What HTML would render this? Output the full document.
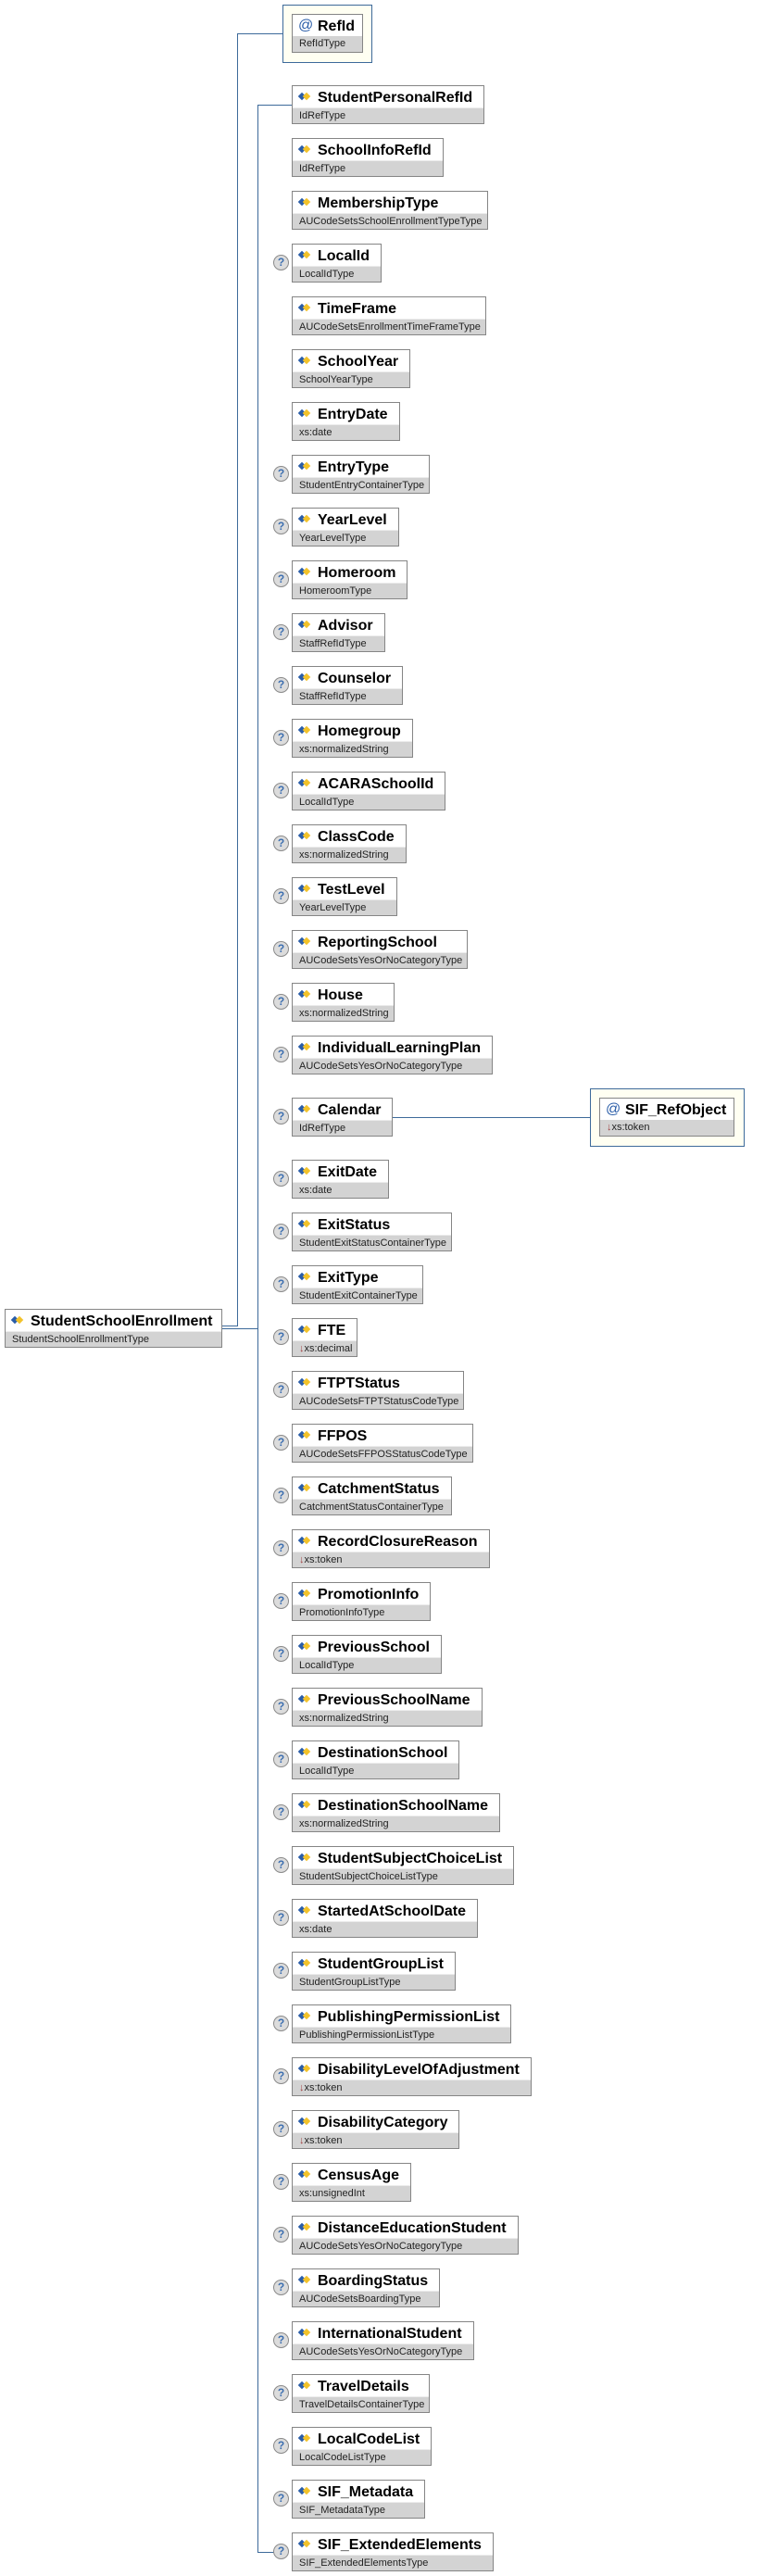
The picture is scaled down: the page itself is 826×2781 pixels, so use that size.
<!DOCTYPE html>
<html><head><meta charset="utf-8"><style>
body{margin:0;width:826px;height:2781px;position:relative;background:#fff;overflow:hidden;font-family:"Liberation Sans",Arial,sans-serif}
.l{position:absolute;background:#3d6a9a}
.e{position:absolute;left:315px;border:1px solid #858585;background:#d3d3d3;white-space:nowrap;box-sizing:border-box;height:42px}
.n{height:23px;background:#fff;padding:0 12px 0 27px;font-weight:bold;font-size:16px;line-height:25px;position:relative;color:#000;border-bottom:1px solid #ececec}
.n::before{content:"";position:absolute;left:7px;top:8px;width:6px;height:6px;background:#2a5da8;transform:rotate(45deg)}
.n::after{content:"";position:absolute;left:12px;top:8px;width:6px;height:6px;background:#f2c22a;transform:rotate(45deg)}
.t{height:17px;font-size:11px;line-height:17px;padding:0 5px 0 7px;color:#222}
.d{color:#a04040}
.q{position:absolute;left:295px;width:15px;height:15px;border:1px solid #8a8a8a;border-radius:50%;background:#dcdcdc;color:#3d6fb0;font-weight:bold;font-size:12px;line-height:15px;text-align:center}
.a{position:absolute;background:#fffff2;border:1px solid #3d6a9a;box-sizing:border-box}
.ai{position:absolute;left:9px;top:9px;border:1px solid #858585;background:#d3d3d3;white-space:nowrap;box-sizing:border-box;height:42px}
.an{height:23px;background:#fff;padding:0 10px 0 27px;font-weight:bold;font-size:16px;line-height:25px;position:relative}
.an span{position:absolute;left:6px;top:-1px;color:#2a5da8;font-weight:normal;font-size:16px}
</style></head><body>
<!-- connectors -->
<div class="l" style="left:240px;top:1431px;width:17px;height:1px"></div>
<div class="l" style="left:256px;top:36px;width:1px;height:1396px"></div>
<div class="l" style="left:256px;top:36px;width:49px;height:1px"></div>
<div class="l" style="left:240px;top:1434px;width:38px;height:1px"></div>
<div class="l" style="left:278px;top:113px;width:1px;height:2643px"></div>
<div class="l" style="left:278px;top:113px;width:37px;height:1px"></div>
<div class="l" style="left:278px;top:2755px;width:18px;height:1px"></div>
<div class="l" style="left:400px;top:1206px;width:237px;height:1px"></div>

<!-- root -->
<div class="e" style="left:5px;top:1413px;width:235px"><div class="n">StudentSchoolEnrollment</div><div class="t">StudentSchoolEnrollmentType</div></div>

<!-- RefId attribute -->
<div class="a" style="left:305px;top:5px;width:97px;height:63px"><div class="ai" style="width:77px"><div class="an"><span>@</span>RefId</div><div class="t">RefIdType</div></div></div>

<!-- SIF_RefObject attribute -->
<div class="a" style="left:637px;top:1175px;width:167px;height:63px"><div class="ai" style="width:146px"><div class="an"><span>@</span>SIF_RefObject</div><div class="t"><span class="d">↓</span>xs:token</div></div></div>

<div class="e" style="top:92px"><div class="n">StudentPersonalRefId</div><div class="t">IdRefType</div></div>
<div class="e" style="top:149px"><div class="n">SchoolInfoRefId</div><div class="t">IdRefType</div></div>
<div class="e" style="top:206px"><div class="n">MembershipType</div><div class="t">AUCodeSetsSchoolEnrollmentTypeType</div></div>
<div class="q" style="top:275px">?</div><div class="e" style="top:263px"><div class="n">LocalId</div><div class="t">LocalIdType</div></div>
<div class="e" style="top:320px"><div class="n">TimeFrame</div><div class="t">AUCodeSetsEnrollmentTimeFrameType</div></div>
<div class="e" style="top:377px"><div class="n">SchoolYear</div><div class="t">SchoolYearType</div></div>
<div class="e" style="top:434px"><div class="n">EntryDate</div><div class="t">xs:date</div></div>
<div class="q" style="top:503px">?</div><div class="e" style="top:491px"><div class="n">EntryType</div><div class="t">StudentEntryContainerType</div></div>
<div class="q" style="top:560px">?</div><div class="e" style="top:548px"><div class="n">YearLevel</div><div class="t">YearLevelType</div></div>
<div class="q" style="top:617px">?</div><div class="e" style="top:605px"><div class="n">Homeroom</div><div class="t">HomeroomType</div></div>
<div class="q" style="top:674px">?</div><div class="e" style="top:662px"><div class="n">Advisor</div><div class="t">StaffRefIdType</div></div>
<div class="q" style="top:731px">?</div><div class="e" style="top:719px"><div class="n">Counselor</div><div class="t">StaffRefIdType</div></div>
<div class="q" style="top:788px">?</div><div class="e" style="top:776px"><div class="n">Homegroup</div><div class="t">xs:normalizedString</div></div>
<div class="q" style="top:845px">?</div><div class="e" style="top:833px"><div class="n">ACARASchoolId</div><div class="t">LocalIdType</div></div>
<div class="q" style="top:902px">?</div><div class="e" style="top:890px"><div class="n">ClassCode</div><div class="t">xs:normalizedString</div></div>
<div class="q" style="top:959px">?</div><div class="e" style="top:947px"><div class="n">TestLevel</div><div class="t">YearLevelType</div></div>
<div class="q" style="top:1016px">?</div><div class="e" style="top:1004px"><div class="n">ReportingSchool</div><div class="t">AUCodeSetsYesOrNoCategoryType</div></div>
<div class="q" style="top:1073px">?</div><div class="e" style="top:1061px"><div class="n">House</div><div class="t">xs:normalizedString</div></div>
<div class="q" style="top:1130px">?</div><div class="e" style="top:1118px"><div class="n">IndividualLearningPlan</div><div class="t">AUCodeSetsYesOrNoCategoryType</div></div>
<div class="q" style="top:1197px">?</div><div class="e" style="top:1185px"><div class="n">Calendar</div><div class="t">IdRefType</div></div>
<div class="q" style="top:1264px">?</div><div class="e" style="top:1252px"><div class="n">ExitDate</div><div class="t">xs:date</div></div>
<div class="q" style="top:1321px">?</div><div class="e" style="top:1309px"><div class="n">ExitStatus</div><div class="t">StudentExitStatusContainerType</div></div>
<div class="q" style="top:1378px">?</div><div class="e" style="top:1366px"><div class="n">ExitType</div><div class="t">StudentExitContainerType</div></div>
<div class="q" style="top:1435px">?</div><div class="e" style="top:1423px"><div class="n">FTE</div><div class="t"><span class="d">↓</span>xs:decimal</div></div>
<div class="q" style="top:1492px">?</div><div class="e" style="top:1480px"><div class="n">FTPTStatus</div><div class="t">AUCodeSetsFTPTStatusCodeType</div></div>
<div class="q" style="top:1549px">?</div><div class="e" style="top:1537px"><div class="n">FFPOS</div><div class="t">AUCodeSetsFFPOSStatusCodeType</div></div>
<div class="q" style="top:1606px">?</div><div class="e" style="top:1594px"><div class="n">CatchmentStatus</div><div class="t">CatchmentStatusContainerType</div></div>
<div class="q" style="top:1663px">?</div><div class="e" style="top:1651px"><div class="n">RecordClosureReason</div><div class="t"><span class="d">↓</span>xs:token</div></div>
<div class="q" style="top:1720px">?</div><div class="e" style="top:1708px"><div class="n">PromotionInfo</div><div class="t">PromotionInfoType</div></div>
<div class="q" style="top:1777px">?</div><div class="e" style="top:1765px"><div class="n">PreviousSchool</div><div class="t">LocalIdType</div></div>
<div class="q" style="top:1834px">?</div><div class="e" style="top:1822px"><div class="n">PreviousSchoolName</div><div class="t">xs:normalizedString</div></div>
<div class="q" style="top:1891px">?</div><div class="e" style="top:1879px"><div class="n">DestinationSchool</div><div class="t">LocalIdType</div></div>
<div class="q" style="top:1948px">?</div><div class="e" style="top:1936px"><div class="n">DestinationSchoolName</div><div class="t">xs:normalizedString</div></div>
<div class="q" style="top:2005px">?</div><div class="e" style="top:1993px"><div class="n">StudentSubjectChoiceList</div><div class="t">StudentSubjectChoiceListType</div></div>
<div class="q" style="top:2062px">?</div><div class="e" style="top:2050px"><div class="n">StartedAtSchoolDate</div><div class="t">xs:date</div></div>
<div class="q" style="top:2119px">?</div><div class="e" style="top:2107px"><div class="n">StudentGroupList</div><div class="t">StudentGroupListType</div></div>
<div class="q" style="top:2176px">?</div><div class="e" style="top:2164px"><div class="n">PublishingPermissionList</div><div class="t">PublishingPermissionListType</div></div>
<div class="q" style="top:2233px">?</div><div class="e" style="top:2221px"><div class="n">DisabilityLevelOfAdjustment</div><div class="t"><span class="d">↓</span>xs:token</div></div>
<div class="q" style="top:2290px">?</div><div class="e" style="top:2278px"><div class="n">DisabilityCategory</div><div class="t"><span class="d">↓</span>xs:token</div></div>
<div class="q" style="top:2347px">?</div><div class="e" style="top:2335px"><div class="n">CensusAge</div><div class="t">xs:unsignedInt</div></div>
<div class="q" style="top:2404px">?</div><div class="e" style="top:2392px"><div class="n">DistanceEducationStudent</div><div class="t">AUCodeSetsYesOrNoCategoryType</div></div>
<div class="q" style="top:2461px">?</div><div class="e" style="top:2449px"><div class="n">BoardingStatus</div><div class="t">AUCodeSetsBoardingType</div></div>
<div class="q" style="top:2518px">?</div><div class="e" style="top:2506px"><div class="n">InternationalStudent</div><div class="t">AUCodeSetsYesOrNoCategoryType</div></div>
<div class="q" style="top:2575px">?</div><div class="e" style="top:2563px"><div class="n">TravelDetails</div><div class="t">TravelDetailsContainerType</div></div>
<div class="q" style="top:2632px">?</div><div class="e" style="top:2620px"><div class="n">LocalCodeList</div><div class="t">LocalCodeListType</div></div>
<div class="q" style="top:2689px">?</div><div class="e" style="top:2677px"><div class="n">SIF_Metadata</div><div class="t">SIF_MetadataType</div></div>
<div class="q" style="top:2746px">?</div><div class="e" style="top:2734px"><div class="n">SIF_ExtendedElements</div><div class="t">SIF_ExtendedElementsType</div></div>
</body></html>
